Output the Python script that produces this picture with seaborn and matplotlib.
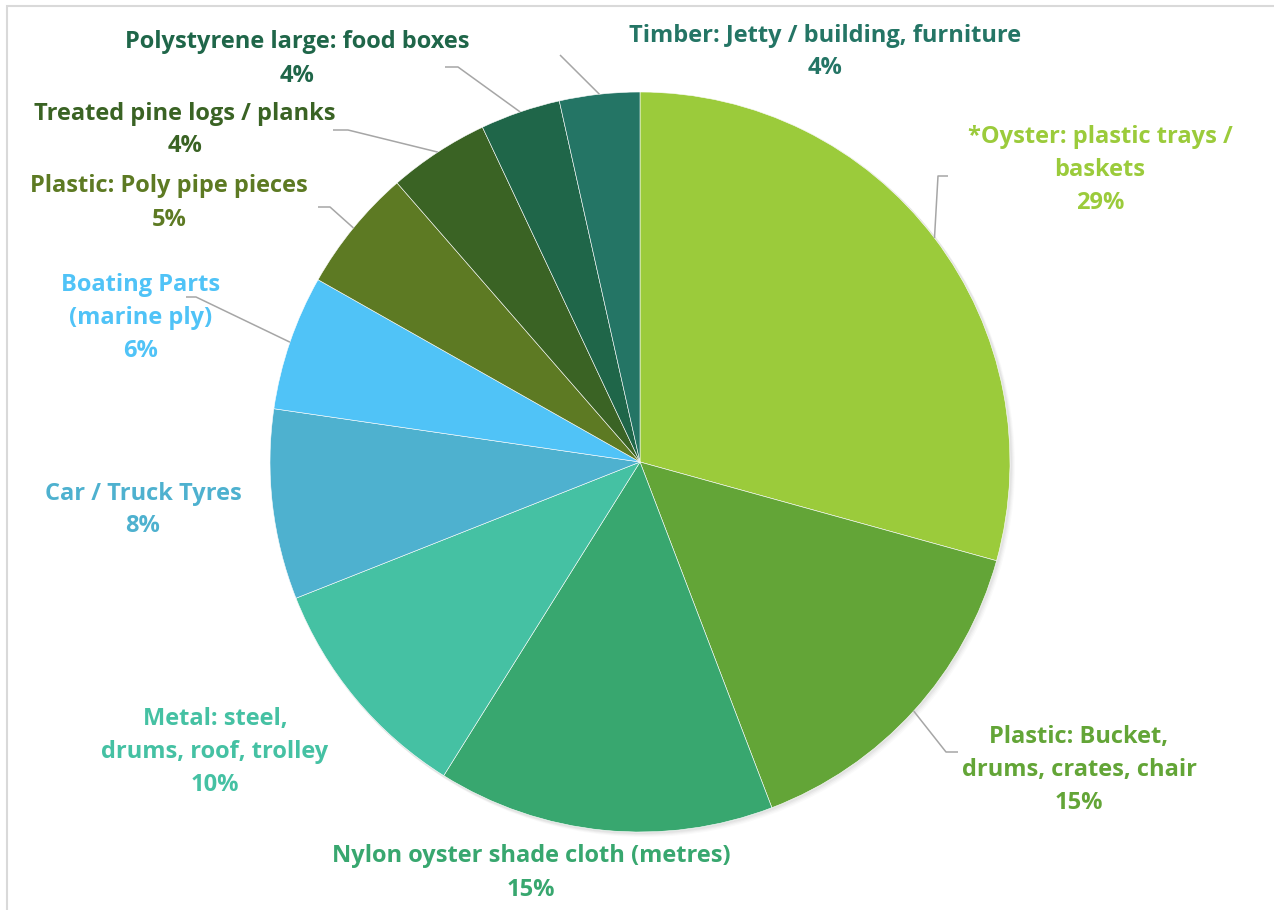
import numpy as np
import matplotlib
matplotlib.use("Agg")
import matplotlib.pyplot as plt
import seaborn as sns
from matplotlib.patches import Rectangle, Circle

# slice data, clockwise from 12 o'clock
categories = [
    "*Oyster: plastic trays /\nbaskets",
    "Plastic: Bucket,\ndrums, crates, chair",
    "Nylon oyster shade cloth (metres)",
    "Metal: steel,\ndrums, roof, trolley",
    "Car / Truck Tyres",
    "Boating Parts\n(marine ply)",
    "Plastic: Poly pipe pieces",
    "Treated pine logs / planks",
    "Polystyrene large: food boxes",
    "Timber: Jetty / building, furniture",
]
shares = [29.3, 14.9, 14.7, 10.1, 8.3, 5.9, 5.4, 4.4, 3.5, 3.5]
colors = ["#9BCB3B", "#63A537", "#38A76F", "#45C1A3", "#4EB1CF",
          "#50C3F7", "#5D7A23", "#3A6324", "#1F6649", "#247565"]

# label layout in pixel space (x from left, y from top)
label_pos = [(1100, 170), (1079, 770), (531, 873), (215, 752), (143, 510),
             (141, 318), (169, 203), (185, 130), (297, 59), (825, 52)]
# leader lines: (elbow, end) or None
leaders = [((938, 176), (948, 176)), ((946, 752), (958, 752)), None, None, None,
           ((196, 297), (186, 297)), ((330, 207), (318, 207)),
           ((348, 130), (333, 130)), ((458, 67), (445, 67)),
           ((560, 55), (560, 55))]

W, H = 1274, 910
cx, cy, R = 640, 462, 370
line_gap = 33

sns.set_theme(style="white")
plt.rcParams["font.family"] = ["Open Sans", "DejaVu Sans"]

fig = plt.figure(figsize=(W / 100, H / 100), dpi=100)
ax = fig.add_axes([0, 0, 1, 1])

def py(y):
    return H - y

# soft shadow under the pie (down/right)
for k, a in enumerate([0.035, 0.03, 0.025, 0.02]):
    ax.add_patch(Circle((cx + 1 + k, py(cy) - 1 - k), R + 1,
                        facecolor="black", alpha=a, linewidth=0))

wedges, _ = ax.pie(shares, colors=colors, startangle=90, counterclock=False,
                   center=(cx, py(cy)), radius=R, frame=True,
                   wedgeprops=dict(edgecolor="white", linewidth=0.4))
ax.set_xlim(0, W)
ax.set_ylim(0, H)
ax.set_aspect("equal")
ax.axis("off")

# chart border
ax.add_patch(Rectangle((7, py(1000)), 1400, 1000 - 6, fill=False,
                       edgecolor="#D9D9D9", linewidth=1.5, clip_on=False))

for w, name, val, col, pos, ld in zip(wedges, categories, shares, colors,
                                       label_pos, leaders):
    lines = name.split("\n") + [f"{round(val)}%"]
    n = len(lines)
    for i, s in enumerate(lines):
        yy = pos[1] + (i - (n - 1) / 2) * line_gap
        ax.text(pos[0], py(yy), s, ha="center", va="center", color=col,
                fontsize=17, fontweight="bold")
    if ld is not None:
        mid = np.deg2rad((w.theta1 + w.theta2) / 2)
        ax_ = cx + R * np.cos(mid)
        ay_ = py(cy) + R * np.sin(mid)
        (ex, ey), (tx, ty) = ld
        ax.plot([ax_, ex, tx], [ay_, py(ey), py(ty)], color="#A6A6A6",
                linewidth=1.1, solid_capstyle="butt")

fig.savefig("out.png", dpi=100)
